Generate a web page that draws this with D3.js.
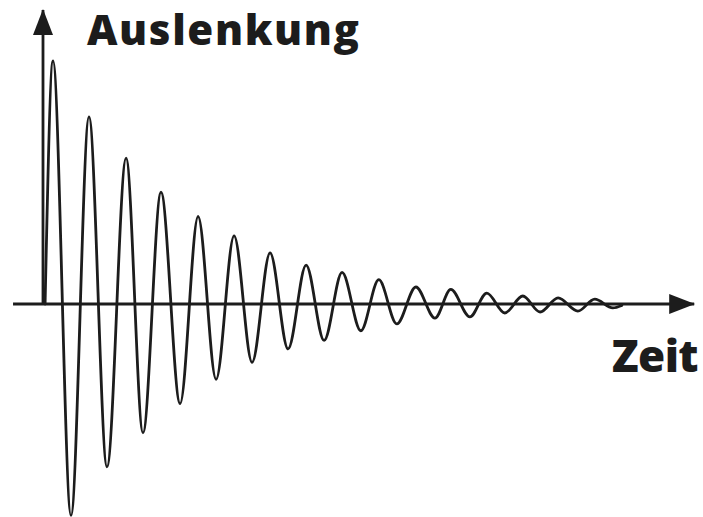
<!DOCTYPE html>
<html>
<head>
<meta charset="utf-8">
<script src="https://cdn.jsdelivr.net/npm/d3@7/dist/d3.min.js"></script>
<style>
  html, body { margin: 0; padding: 0; background: #ffffff; }
  svg { display: block; }
</style>
</head>
<body>
<div id="chart"></div>
<script>
// Damped oscillation: time of each turning point (in periods) and the displacement there
const times = [0.03, 0.25, 0.75, 1.25, 1.75, 2.28, 2.75, 3.25, 3.78, 4.28, 4.78, 5.28, 5.78,
  6.28, 6.78, 7.28, 7.78, 8.28, 8.8, 9.3, 9.8, 10.33, 10.86, 11.3, 11.83, 12.3, 12.8,
  13.3, 13.78, 14.28, 14.83, 15.3, 15.8, 16.05];
const displacement = [0, 1.00, -0.87, 0.77, -0.67, 0.60, -0.53, 0.46, -0.41, 0.36, -0.31,
  0.28, -0.24, 0.21, -0.185, 0.16, -0.15, 0.13, -0.11, 0.10, -0.082, 0.07, -0.058, 0.06,
  -0.053, 0.045, -0.037, 0.033, -0.033, 0.025, -0.029, 0.02, -0.016, -0.006];

// Axis extents (same units as the data)
const timeAxis = [-0.86, 18.06];
const displacementAxis = [-0.877, 1.21];

const axisTitleY = "Auslenkung";
const axisTitleX = "Zeit";

const width = 703, height = 517;

const x = d3.scaleLinear().domain([0, 1]).range([44, 80]);
const y = d3.scaleLinear().domain([0, 1]).range([304, 61]);

const svg = d3.select("#chart").append("svg")
  .attr("width", width).attr("height", height);

const ink = "#1c1c1c";

// Arrowheads for the axes
const defs = svg.append("defs");
defs.append("marker")
  .attr("id", "arrow")
  .attr("viewBox", "0 0 26 20")
  .attr("refX", 25).attr("refY", 10)
  .attr("markerWidth", 26).attr("markerHeight", 20)
  .attr("markerUnits", "userSpaceOnUse")
  .attr("orient", "auto")
  .append("path")
  .attr("d", "M0,0 L26,10 L0,20 Z")
  .attr("fill", ink);

// Time axis
svg.append("line")
  .attr("x1", x(timeAxis[0])).attr("x2", x(timeAxis[1]))
  .attr("y1", y(0)).attr("y2", y(0))
  .attr("stroke", ink).attr("stroke-width", 2.8)
  .attr("marker-end", "url(#arrow)");

// Displacement axis
svg.append("line")
  .attr("x1", x(0) - 1).attr("x2", x(0) - 1)
  .attr("y1", y(0)).attr("y2", y(displacementAxis[1]))
  .attr("stroke", ink).attr("stroke-width", 2.8)
  .attr("marker-end", "url(#arrow)");

// Oscillation curve
const data = times.map((t, i) => ({ t, v: displacement[i] }));
const line = d3.line()
  .x(d => x(d.t))
  .y(d => y(d.v))
  .curve(d3.curveMonotoneX);

svg.append("path")
  .datum(data)
  .attr("d", line)
  .attr("fill", "none")
  .attr("stroke", ink)
  .attr("stroke-width", 2.8)
  .attr("stroke-linejoin", "round")
  .attr("stroke-linecap", "round");

// Axis titles
svg.append("text")
  .attr("x", 87).attr("y", 45)
  .attr("font-family", "'Open Sans', sans-serif")
  .attr("font-weight", 800)
  .attr("font-size", 42)
  .attr("letter-spacing", 1.6)
  .attr("fill", ink)
  .text(axisTitleY);

svg.append("text")
  .attr("x", 698).attr("y", 372)
  .attr("text-anchor", "end")
  .attr("font-family", "'Open Sans', sans-serif")
  .attr("font-weight", 800)
  .attr("font-size", 44)
  .attr("letter-spacing", -0.6)
  .attr("fill", ink)
  .text(axisTitleX);
</script>
</body>
</html>
